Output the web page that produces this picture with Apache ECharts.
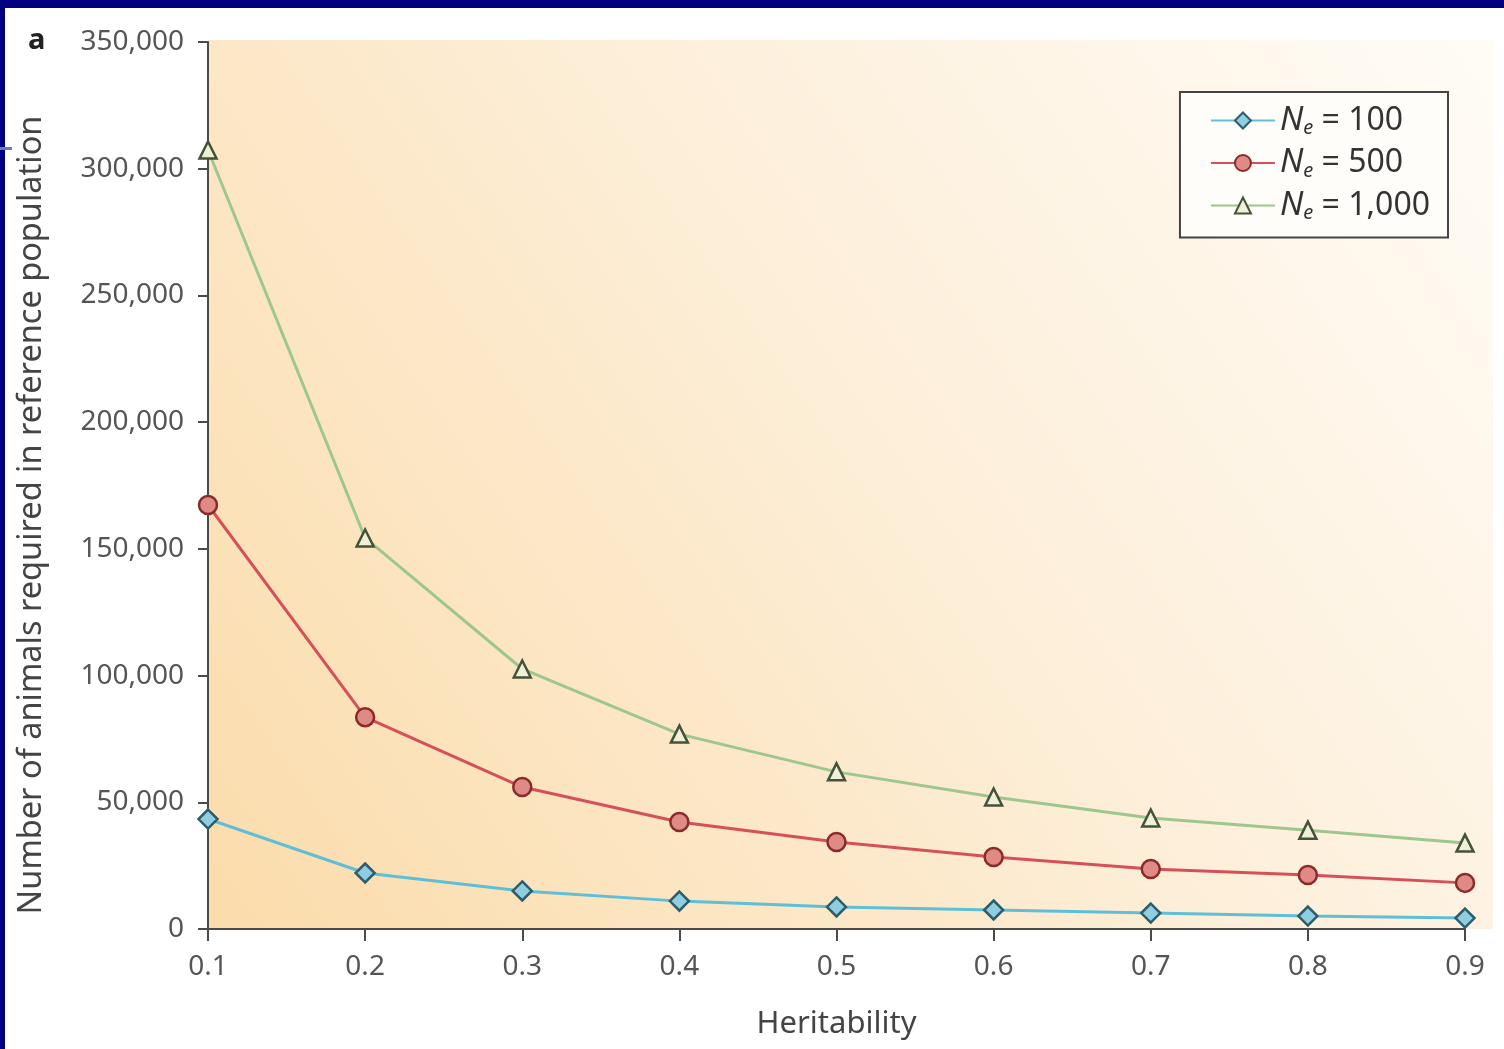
<!DOCTYPE html>
<html>
<head>
<meta charset="utf-8">
<script src="https://cdn.jsdelivr.net/npm/echarts@6/dist/echarts.min.js"></script>
<style>
html,body{margin:0;padding:0;background:#fff;}
#chart{width:1504px;height:1049px;}
</style>
</head>
<body>
<div id="chart"></div>
<script>
// heritability values on the x axis
var heritability = ['0.1','0.2','0.3','0.4','0.5','0.6','0.7','0.8','0.9'];
// animals needed
var ne100 = [43400, 22100, 15000, 11000, 8700, 7500, 6300, 5100, 4300];
var ne500 = [167300, 83600, 56000, 42200, 34300, 28400, 23700, 21300, 18200];
var ne1000 = [307400, 154300, 102600, 76900, 62000, 52100, 43800, 39000, 33900];
var yTicks = [0, 50000, 100000, 150000, 200000, 250000, 300000, 350000];

var font = 'Noto Sans';
var myChart = echarts.init(document.getElementById('chart'));

function fmt(v){
	return v == 0 ? '0' : (v + '').replace(/\B(?=(\d{3})+(?!\d))/g, ',');
}

var rich = {
	n:{fontFamily:font,fontStyle:'italic',fontSize:33,color:'#333'},
	s:{fontFamily:font,fontStyle:'italic',fontSize:20,color:'#333',verticalAlign:'bottom',padding:[16,0,0,0]},
	t:{fontFamily:font,fontSize:32,color:'#333'}
};

var option = {
	animation:false,
	backgroundColor:'#ffffff',
	graphic:[
		{type:'rect',z:-10,shape:{x:208,y:40,width:1285,height:889},
			style:{fill:new echarts.graphic.LinearGradient(0,1,1,0,[
				{offset:0,color:'#fbdcab'},
				{offset:0.55,color:'#fdefda'},
				{offset:1,color:'#fffcf6'}])}},
		{type:'rect',z:100,shape:{x:0,y:0,width:1504,height:8},style:{fill:'#000080'}},
		{type:'rect',z:100,shape:{x:0,y:0,width:5,height:1049},style:{fill:'#000080'}},
		{type:'rect',z:100,shape:{x:0,y:147,width:12,height:3},style:{fill:'#6a78c8'}},
		{type:'text',left:28,top:26,style:{text:'a',fontFamily:font,fontWeight:'bold',fontSize:29,fill:'#222'}},
		// y axis title, placed a little below the axis centre like the original
		{type:'text',x:32,y:515,rotation:Math.PI/2,
			style:{text:'Number of animals required in reference population',fontFamily:font,fontSize:32.5,
				fill:'#444',align:'center',verticalAlign:'middle'}}
	],
	grid:{left:208,right:39,top:42,bottom:120},
	legend:{
		right:56,top:92,orient:'vertical',
		backgroundColor:'#fffdf9',borderColor:'#444',borderWidth:2,
		padding:[12,18,14,30],itemGap:8,itemWidth:64,itemHeight:20,
		data:['100','500','1000'],
		formatter:function(name){
			var lab = {'100':'100','500':'500','1000':'1,000'};
			return '{n|N}{s|e}{t| = ' + lab[name] + '}';
		},
		textStyle:{rich:rich}
	},
	xAxis:{
		type:'category',data:heritability,boundaryGap:false,
		name:'Heritability',nameLocation:'middle',nameGap:80,
		nameTextStyle:{fontFamily:font,fontSize:31,color:'#444'},
		axisLine:{lineStyle:{color:'#4a4a4a',width:2}},
		axisTick:{show:true,length:12,lineStyle:{color:'#4a4a4a',width:2}},
		axisLabel:{fontFamily:font,fontSize:28,color:'#555',margin:24},
		splitLine:{show:false}
	},
	yAxis:{
		type:'value',min:0,max:350000,interval:50000,
		axisLine:{show:true,lineStyle:{color:'#4a4a4a',width:2}},
		axisTick:{show:true,length:10,lineStyle:{color:'#4a4a4a',width:2}},
		axisLabel:{fontFamily:font,fontSize:28,color:'#555',margin:24,
			formatter:function(v){ return yTicks.indexOf(v) > -1 ? fmt(v) : ''; }},
		splitLine:{show:false}
	},
	series:[
		{name:'100',type:'line',data:ne100,symbol:'diamond',symbolSize:19,
			lineStyle:{color:'#5fbfd6',width:3},
			itemStyle:{color:'#8fcde0',borderColor:'#2d5d6a',borderWidth:2.5}},
		{name:'500',type:'line',data:ne500,symbol:'circle',symbolSize:18,
			lineStyle:{color:'#d6505a',width:3},
			itemStyle:{color:'#e08a86',borderColor:'#8a2a2a',borderWidth:2.5}},
		{name:'1000',type:'line',data:ne1000,symbol:'triangle',symbolSize:17,
			lineStyle:{color:'#9dc78c',width:3},
			itemStyle:{color:'#eef0d8',borderColor:'#455238',borderWidth:2.5}}
	]
};
myChart.setOption(option);
</script>
</body>
</html>
